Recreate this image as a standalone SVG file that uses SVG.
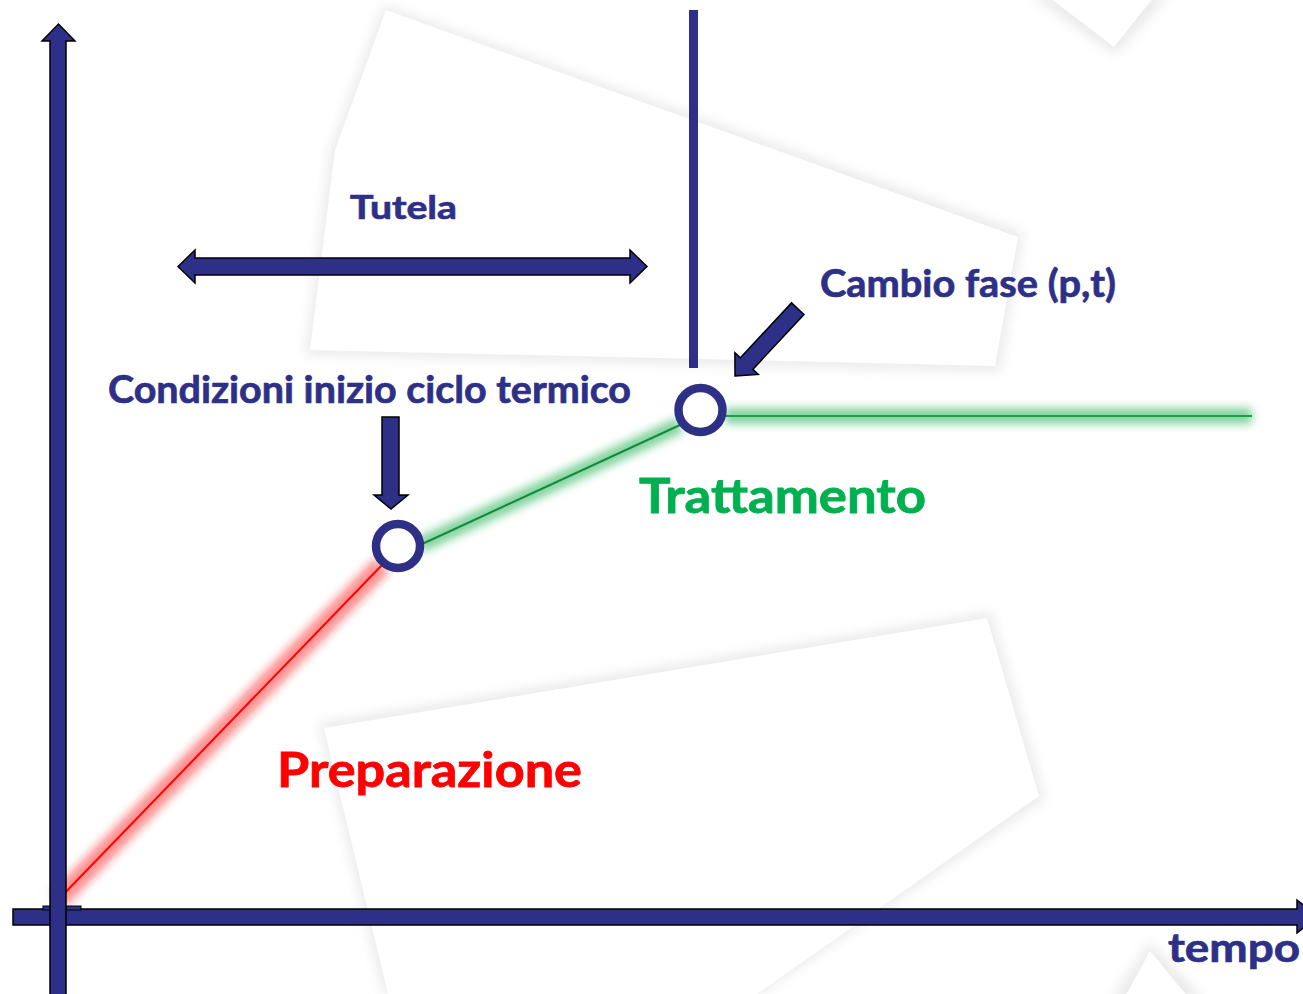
<svg xmlns="http://www.w3.org/2000/svg" width="1303" height="994" viewBox="0 0 1303 994">
<defs>
<filter id="sh" filterUnits="userSpaceOnUse" x="-50" y="-50" width="1400" height="1100"><feGaussianBlur stdDeviation="6"/></filter>
<filter id="glow" filterUnits="userSpaceOnUse" x="-50" y="-50" width="1400" height="1100"><feGaussianBlur stdDeviation="4"/></filter>
<style>
.bgs{fill:#ebebeb;filter:url(#sh)}
.bgw{fill:#ffffff}
.ax{fill:#2E3088;stroke:#000;stroke-width:1.5;stroke-linejoin:miter}
.lbl{font-family:Lato,"Liberation Sans",sans-serif;font-weight:700;fill:#2E3088;stroke:#2E3088;stroke-width:0.7}
.node{fill:#ffffff;stroke:#2E3088;stroke-width:8.5}
</style>
</defs>
<rect width="1303" height="994" fill="#ffffff"/>
<g id="background">
<polygon class="bgs" points="383,5 1023,232 1000,372 305,355 330,150"/>
<polygon class="bgw" points="386,10 1018,237 995,366 310,350 335,150"/>
<polygon class="bgs" points="319,723 991,612 1045,799 760,994 383,994"/>
<polygon class="bgw" points="324,728 987,618 1039,796 757,994 388,994"/>
<polygon class="bgs" points="1030,-5 1115,55 1170,-5"/>
<polygon class="bgw" points="1042,-8 1114,47 1158,-8"/>
<polygon class="bgs" points="1110,1000 1150,942 1205,1000"/>
<polygon class="bgw" points="1121,1004 1150,951 1194,1004"/>
</g>
<g id="connectors">
<line x1="58" y1="900" x2="382" y2="565" stroke="#ff2020" stroke-opacity="0.5" stroke-width="20" filter="url(#glow)"/>
<line x1="58" y1="900" x2="382" y2="565" stroke="#ff0000" stroke-width="2"/>
<line x1="420" y1="545" x2="680" y2="425" stroke="#20b050" stroke-opacity="0.55" stroke-width="16" filter="url(#glow)"/>
<line x1="420" y1="545" x2="680" y2="425" stroke="#128a3e" stroke-width="2"/>
<line x1="725" y1="416" x2="1252" y2="416" stroke="#20b050" stroke-opacity="0.55" stroke-width="16" filter="url(#glow)"/>
<line x1="725" y1="416" x2="1252" y2="416" stroke="#18a048" stroke-width="2"/>
</g>
<g id="axes">
<polygon id="x-axis" class="ax" points="13,909 1297,909 1297,900 1318,916.5 1297,933 1297,925 13,925"/>
<rect x="43" y="906" width="38" height="4" fill="#2E3088" stroke="#000" stroke-width="1"/>
<polygon id="y-axis" class="ax" points="50,996 50,41 42,41 58.5,24 75,41 66,41 66,996"/>
<text class="lbl" x="1168" y="962" font-size="40" textLength="132" lengthAdjust="spacingAndGlyphs">tempo</text>
</g>
<g id="tutela">
<polygon class="ax" points="178,266.5 195,250 195,258 630,258 630,250 647,266.5 630,283 630,275 195,275 195,283"/>
<text class="lbl" x="350" y="219" font-size="33" textLength="107" lengthAdjust="spacingAndGlyphs">Tutela</text>
</g>
<g id="phase-line">
<rect x="689" y="10" width="9" height="358" fill="#2E3088"/>
</g>
<g id="cambio-fase">
<polygon class="ax" transform="translate(735,376) rotate(133)" points="0,0 -17,-16 -17,-8.5 -92,-8.5 -92,8.5 -17,8.5 -17,16"/>
<text class="lbl" x="820" y="297" font-size="38" textLength="296" lengthAdjust="spacingAndGlyphs">Cambio fase (p,t)</text>
</g>
<g id="condizioni">
<polygon class="ax" points="382,417 399,417 399,495 408,495 391,509 374,495 382,495"/>
<text class="lbl" x="108" y="403" font-size="38" textLength="523" lengthAdjust="spacingAndGlyphs">Condizioni inizio ciclo termico</text>
</g>
<g id="node-start">
<circle class="node" cx="398" cy="546" r="22"/>
</g>
<g id="node-change">
<circle class="node" cx="700.5" cy="410" r="22"/>
</g>
<g id="trattamento">
<text x="639" y="513" font-family="Lato,'Liberation Sans',sans-serif" font-weight="700" font-size="48" fill="#00B050" stroke="#00B050" stroke-width="0.8" textLength="287" lengthAdjust="spacingAndGlyphs">Trattamento</text>
</g>
<g id="preparazione">
<text x="277" y="787" font-family="Lato,'Liberation Sans',sans-serif" font-weight="700" font-size="48" fill="#FF0000" stroke="#FF0000" stroke-width="0.8" textLength="305" lengthAdjust="spacingAndGlyphs">Preparazione</text>
</g>
</svg>
